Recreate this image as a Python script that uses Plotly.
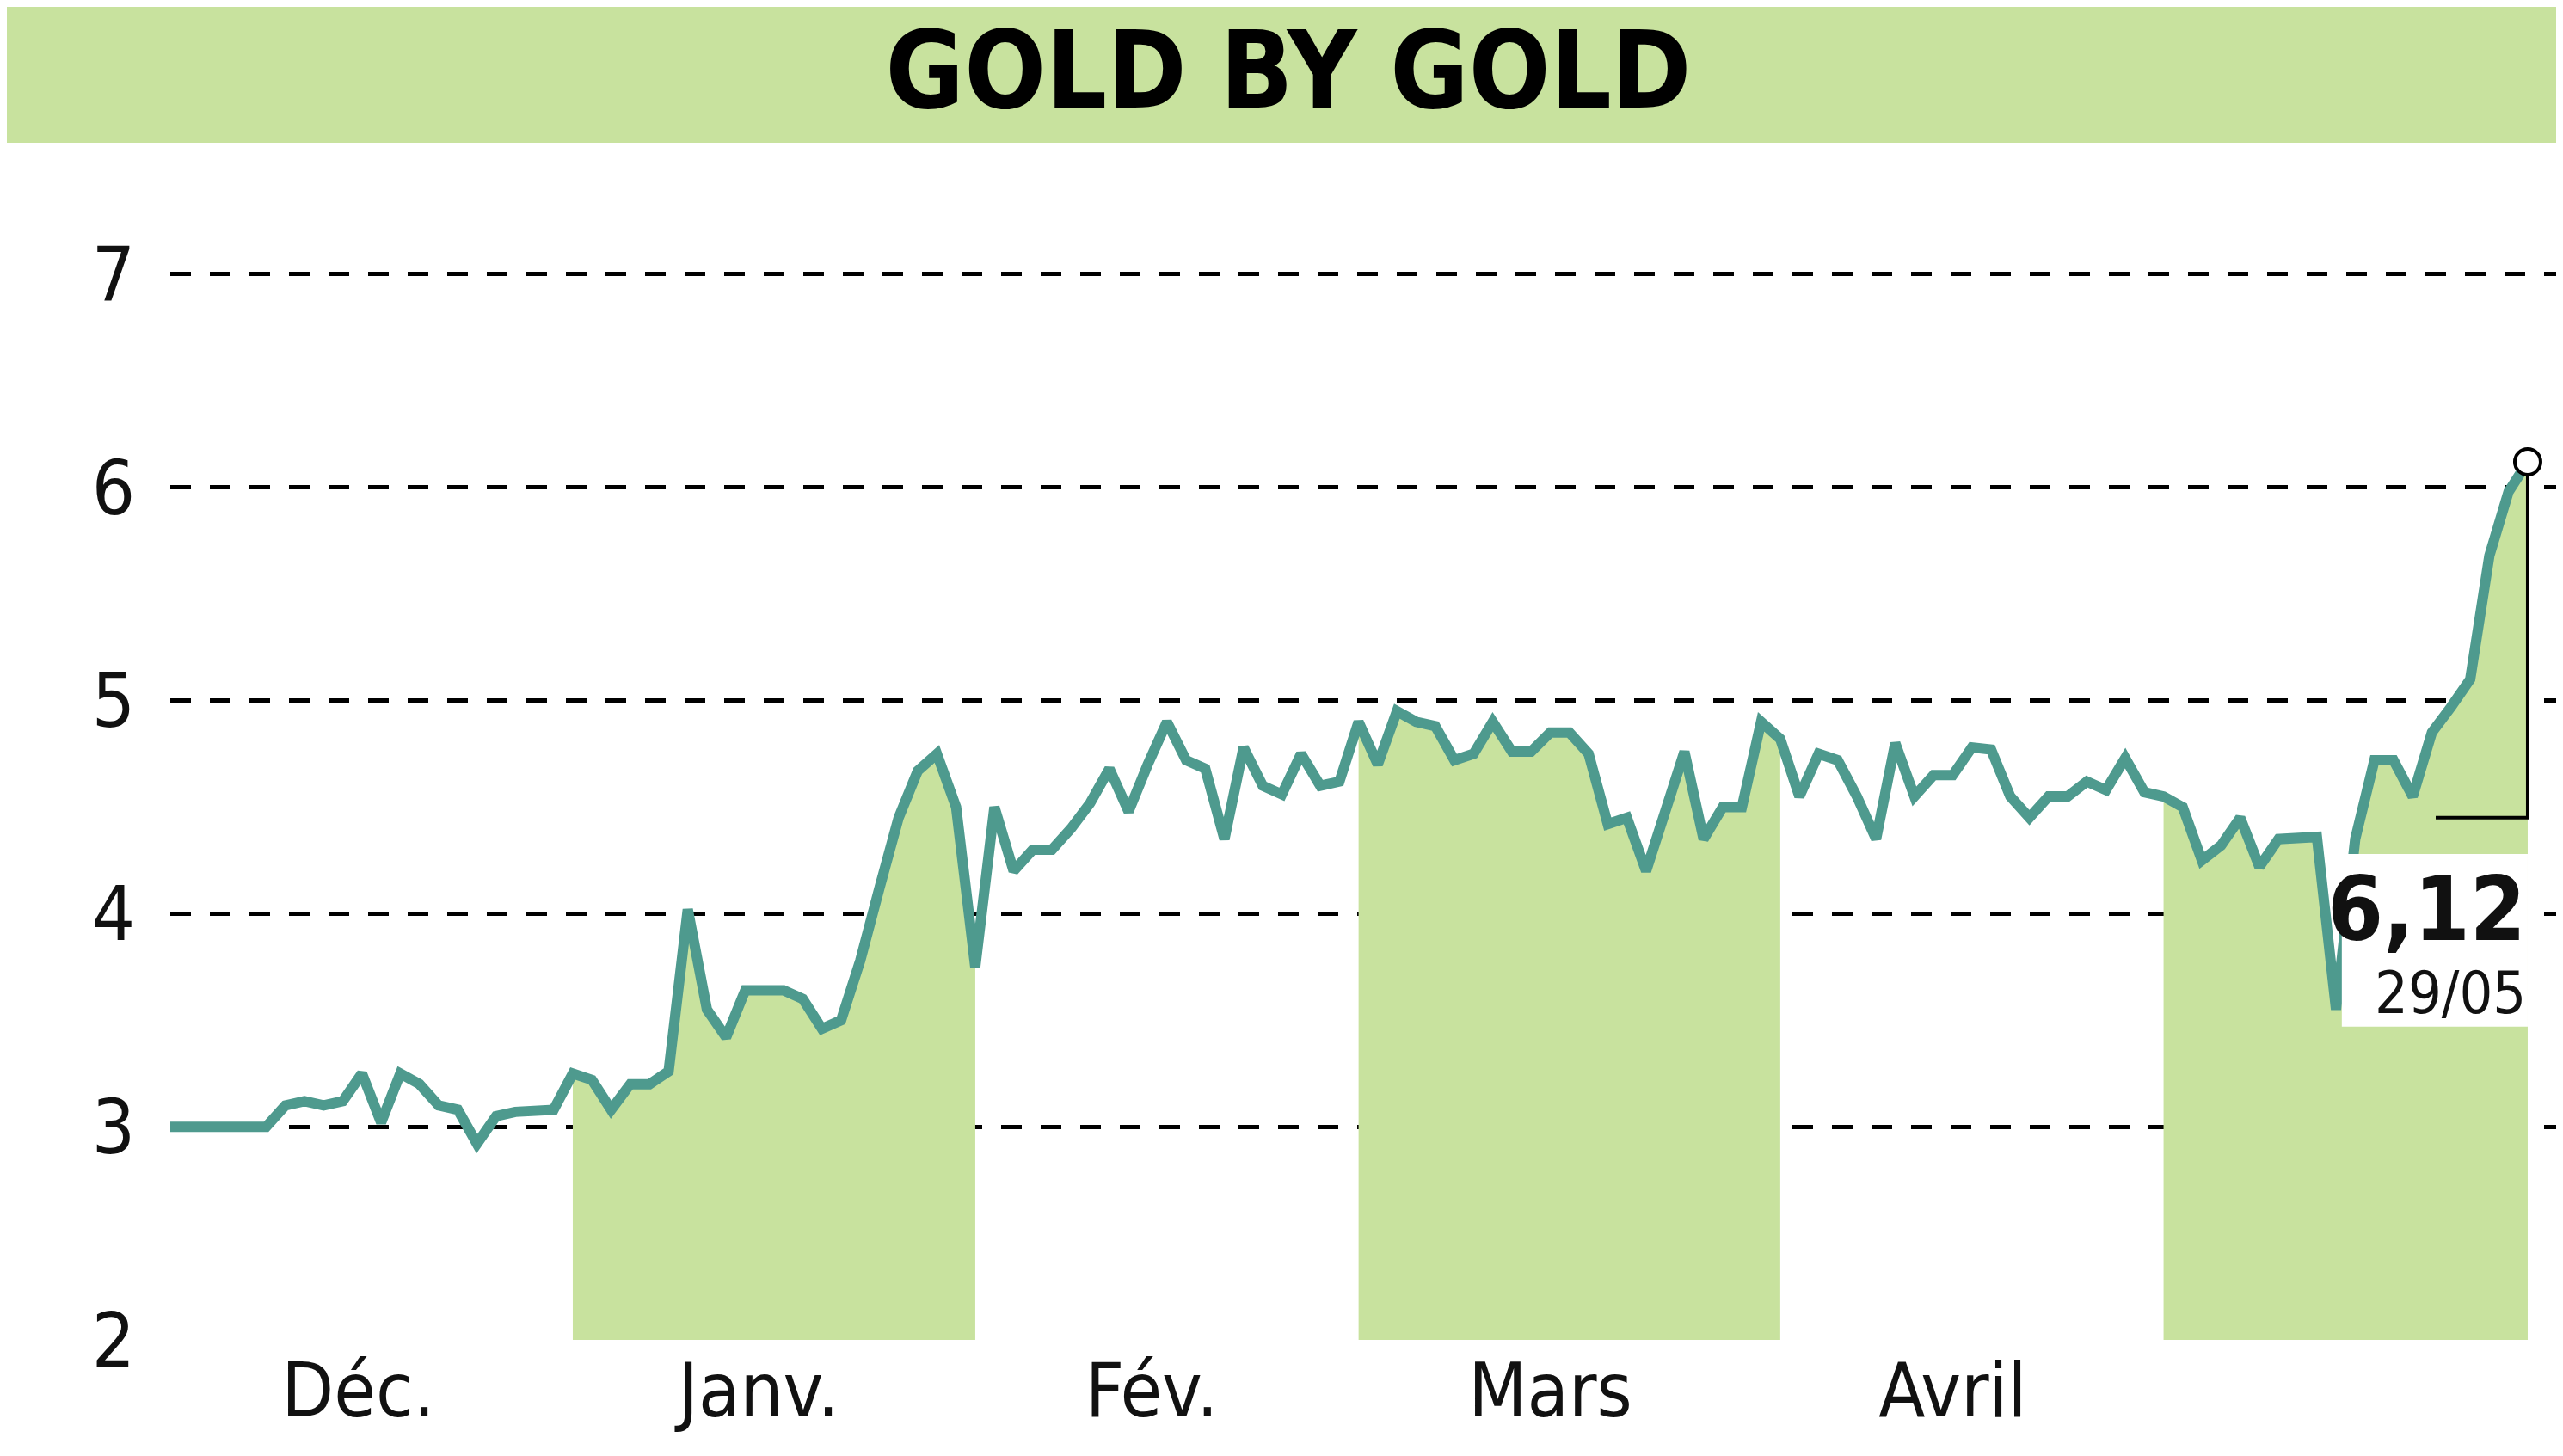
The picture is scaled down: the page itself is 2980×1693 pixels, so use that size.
import plotly.graph_objects as go

values = [3.0,3.0,3.0,3.0,3.0,3.0,
 3.1,3.12,3.1,3.12,3.25,3.02,3.25,3.2,3.1,3.08,2.92,3.05,3.07,3.08,3.08,
 3.25,3.22,3.08,3.2,3.2,3.26,4.02,3.55,3.42,3.64,3.64,3.64,3.6,3.46,3.5,3.78,4.12,4.45,4.67,4.75,4.5,3.75,
 4.5,4.2,4.3,4.3,4.4,4.52,4.68,4.48,4.7,4.9,4.72,4.68,4.35,4.78,4.6,4.56,4.75,4.6,4.62,4.9,
 4.7,4.95,4.9,4.88,4.72,4.75,4.9,4.76,4.76,4.85,4.85,4.75,4.42,4.45,4.2,4.47,4.76,4.35,4.5,4.5,4.9,4.82,
 4.55,4.75,4.72,4.55,4.35,4.8,4.55,4.65,4.65,4.78,4.77,4.55,4.45,4.55,4.55,4.62,4.58,4.73,4.57,4.55,
 4.5,4.25,4.32,4.45,4.22,4.35,4.36,4.36,3.55,4.35,4.72,4.72,4.55,4.85,4.97,5.1,5.68,5.98,6.12]
bands = [(21, 42), (62, 84), (104, 123)]
tick_pos = [9.8, 30.7, 51.2, 72, 93]
tick_text = ["Déc.", "Janv.", "Fév.", "Mars", "Avril"]
y_ticks = [2, 3, 4, 5, 6, 7]

GREEN = "#c8e29e"
LINE = "#4e9a8e"
FONT = "DejaVu Sans Condensed, Liberation Sans Narrow, sans-serif"
x = list(range(len(values)))
last = len(values) - 1

fig = go.Figure()
for a, b in bands:
    fig.add_trace(go.Scatter(x=x[a:b+1], y=values[a:b+1], fill="tozeroy", fillcolor=GREEN,
                             mode="none", hoverinfo="skip"))
fig.add_trace(go.Scatter(x=x, y=values, mode="lines", line=dict(color=LINE, width=12)))
fig.add_trace(go.Scatter(x=[last, last, last - 4.8], y=[values[-1], 4.45, 4.45], mode="lines",
                         line=dict(color="black", width=4)))
fig.add_trace(go.Scatter(x=[last], y=[values[-1]], mode="markers",
                         marker=dict(size=30, color="white", line=dict(color="black", width=4))))

fig.add_annotation(x=last, y=4.02, text="<b>6,12</b>", showarrow=False, xanchor="right",
                   font=dict(family=FONT, size=104, color="#111"))
fig.add_annotation(x=last, y=3.63, text="29/05", showarrow=False, xanchor="right",
                   font=dict(family=FONT, size=68, color="#111"))

fig.update_layout(
    width=2980, height=1693, showlegend=False,
    paper_bgcolor="white", plot_bgcolor="white",
    margin=dict(l=190, r=0, t=249, b=143),
    title=dict(text="<b>GOLD BY GOLD</b>", x=0.5, xanchor="center", y=0.982, yanchor="top",
               font=dict(family=FONT, size=124, color="black")),
    xaxis=dict(range=[0, 125.2], tickvals=tick_pos, ticktext=tick_text, showgrid=False,
               zeroline=False, showline=False, ticks="",
               tickfont=dict(family=FONT, size=88, color="#111")),
    yaxis=dict(range=[2, 7.25], tickvals=y_ticks, showgrid=True, gridcolor="black", gridwidth=5,
               griddash="24px,22px", zeroline=False, showline=False, ticks="", ticklabelstandoff=40,
               tickfont=dict(family=FONT, size=88, color="#111")),
    shapes=[dict(type="rect", xref="paper", yref="paper", x0=-0.2, x1=1.1,
                 y0=1 + (249 - 158) / 1301, y1=1.3, fillcolor=GREEN, line_width=0, layer="below"),
            dict(type="rect", xref="x", yref="y", x0=last - 9.7, x1=last, y0=3.47, y1=4.28,
                 fillcolor="white", line_width=0, layer="above")],
)
fig.write_html("out.html")
